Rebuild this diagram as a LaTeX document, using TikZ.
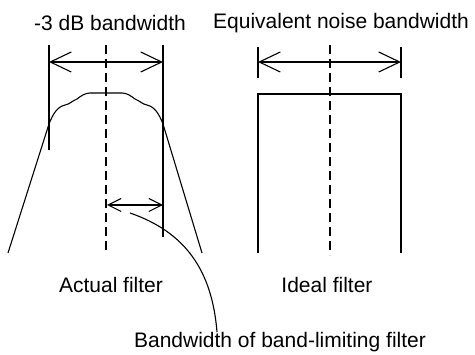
\documentclass[tikz,border=0pt]{standalone}
\usepackage{fontspec}
\setmainfont{Liberation Sans}
\usetikzlibrary{arrows.meta}

\begin{document}
\begin{tikzpicture}[
      x=1pt,y=-1pt,
      label/.style={font=\fontsize{21}{25}\selectfont,inner sep=0pt},
      wire/.style={line width=1.1pt,draw=black},
      centre/.style={line width=2.2pt,dash pattern=on 9pt off 5pt},
      dimarr/.style={wire,{Straight Barb[length=21pt,width=20pt,line width=1.1pt]}-{Straight Barb[length=21pt,width=20pt,line width=1.1pt]}},
      smallarr/.style={wire,{Straight Barb[length=13pt,width=13pt,line width=1.1pt]}-{Straight Barb[length=13pt,width=13pt,line width=1.1pt]}}
    ]
    \useasboundingbox (0,0) rectangle (475,355);
    % texts
    \node[label] (tdb) at (110,23) {-3 dB bandwidth};
    \node[label] (tenb) at (341,23) {Equivalent noise bandwidth};
    \node[label] (actual) at (111,285) {Actual filter};
    \node[label] (ideal) at (327,285) {Ideal filter};
    \node[label] (bwlim) at (280,342) {Bandwidth of band-limiting filter};
    % actual filter
    \coordinate (aLt) at (49,45);  \coordinate (aLb) at (49,150);
    \coordinate (aRt) at (163,45); \coordinate (aRb) at (163,237);
    \coordinate (aCt) at (106,45); \coordinate (aCb) at (106,253);
    \coordinate (aL) at (49,62);   \coordinate (aR) at (163,62);
    \coordinate (sL) at (107,205); \coordinate (sR) at (163,205);
    \coordinate (lead) at (130,213);
    \draw[wire] (aLt) -- (aLb);
    \draw[wire] (aRt) -- (aRb);
    \draw[centre] (aCt) -- (aCb);
    \draw[dimarr] (aL) -- (aR);
    \draw[smallarr] (sL) -- (sR);
    \draw[wire] (8,253) -- (49,124)
      .. controls (53,114) and (57,107) .. (65,105)
      .. controls (70,104) and (72,101) .. (77,99)
      .. controls (81,96) and (85,93) .. (90,93) -- (122,93)
      .. controls (127,93) and (131,96) .. (135,99)
      .. controls (140,101) and (142,104) .. (147,105)
      .. controls (155,107) and (159,114) .. (163,124) -- (202,253);
    \draw[wire] (lead) .. controls (185,232) and (212,270) .. (bwlim.north -| 217,0);
    % ideal filter
    \coordinate (iLt) at (258,47);  \coordinate (iLb) at (258,78);
    \coordinate (iRt) at (401,47);  \coordinate (iRb) at (401,78);
    \coordinate (iCt) at (330,45);  \coordinate (iCb) at (330,255);
    \coordinate (iL) at (258,62);   \coordinate (iR) at (401,62);
    \draw[wire] (iLt) -- (iLb);
    \draw[wire] (iRt) -- (iRb);
    \draw[dimarr] (iL) -- (iR);
    \draw[wire] (258,253) -- (258,94) -- (401,94) -- (401,253);
    \draw[centre] (iCt) -- (iCb);
  \end{tikzpicture}
\end{document}
